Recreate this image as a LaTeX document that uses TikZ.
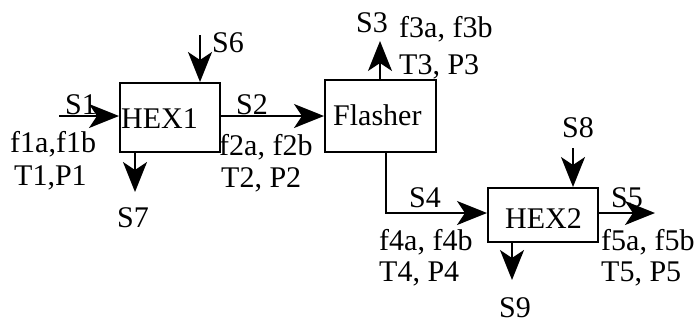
\documentclass[tikz,border=0pt]{standalone}
\usepackage{fontspec}
\setmainfont{Liberation Serif}
\usetikzlibrary{arrows.meta}
\begin{document}
\begin{tikzpicture}[x=1pt,y=-1pt,
  box/.style={draw,line width=2pt,inner sep=0pt},
  arr/.style={line width=2pt,-{Stealth[length=30pt,width=24pt,inset=8pt]}},
  txt/.style={inner sep=0pt,anchor=base west,font=\fontsize{30}{31}\selectfont}]
\useasboundingbox (0,0) rectangle (696,322);
% boxes
\node[box,minimum width=100pt,minimum height=69pt] (hex1) at (170,117.5) {};
\node[box,minimum width=111pt,minimum height=72pt] (flasher) at (380.5,116) {};
\node[box,minimum width=110pt,minimum height=54pt] (hex2) at (543,215) {};
\node[txt] (hex1t) at (121,128) {HEX1};
\node[txt] (flashert) at (333,125) {Flasher};
\node[txt] (hex2t) at (505,228) {HEX2};
% free ends
\coordinate (s1in) at (59,116);
\coordinate (s6in) at (200,35);
\coordinate (s7out) at (135,192);
\coordinate (s3out) at (380,41);
\coordinate (s4c) at (386,213);
\coordinate (s8in) at (573,148);
\coordinate (s5out) at (655,213);
\coordinate (s9out) at (512,280);
% connectors
\draw[arr] (s1in) -- (s1in -| hex1.west);
\draw[arr] (s6in) -- (s6in |- hex1.north);
\draw[arr] (s7out |- hex1.south) -- (s7out);
\draw[arr] (hex1.east |- flasher.west) -- (flasher.west);
\draw[arr] (s3out |- flasher.north) -- (s3out);
\draw[arr] (s4c |- flasher.south) -- (s4c) -- (s4c -| hex2.west);
\draw[arr] (s8in) -- (s8in |- hex2.north);
\draw[arr] (s5out -| hex2.east) -- (s5out);
\draw[arr] (s9out |- hex2.south) -- (s9out);
% labels
\node[txt] (l1) at (65,114) {S1};
\node[txt] (l1a) at (10,152) {f1a,f1b};
\node[txt] (l1b) at (14,185) {T1,P1};
\node[txt] (l6) at (212,52) {S6};
\node[txt] (l7) at (117,227) {S7};
\node[txt] (l2) at (236,114) {S2};
\node[txt] (l2a) at (219,155) {f2a, f2b};
\node[txt] (l2b) at (221,187) {T2, P2};
\node[txt] (l3) at (356,32) {S3};
\node[txt] (l3a) at (399,37) {f3a, f3b};
\node[txt] (l3b) at (399,74) {T3, P3};
\node[txt] (l8) at (562,137) {S8};
\node[txt] (l4) at (409,207) {S4};
\node[txt] (l4a) at (379,250) {f4a, f4b};
\node[txt] (l4b) at (379,281) {T4, P4};
\node[txt] (l5) at (611,207) {S5};
\node[txt] (l5a) at (601,250) {f5a, f5b};
\node[txt] (l5b) at (601,281) {T5, P5};
\node[txt] (l9) at (499,317) {S9};
\end{tikzpicture}
\end{document}
